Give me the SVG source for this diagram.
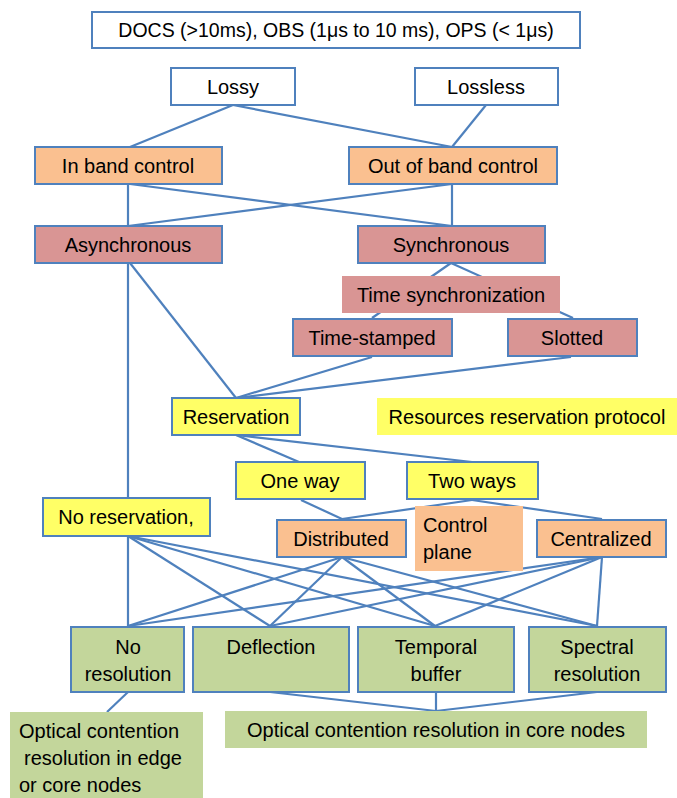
<svg xmlns="http://www.w3.org/2000/svg" width="677" height="798" viewBox="0 0 677 798">
<style>
text{font-family:"Liberation Sans",Arial,sans-serif;font-size:20px;fill:#000;text-anchor:middle}
.b{stroke:#4F81BD;stroke-width:2}
.w{fill:#fff}
.o{fill:#FAC090}
.r{fill:#D99594}
.y{fill:#FFFF66}
.g{fill:#C3D69B}
#connectors line{stroke:#4F81BD;stroke-width:2.2}
.l{text-anchor:start}
</style>
<rect width="677" height="798" fill="#fff"/>
<g id="connectors">
<line x1="233" y1="105" x2="130" y2="147"/>
<line x1="233" y1="105" x2="452" y2="147"/>
<line x1="486" y1="105" x2="452" y2="147"/>
<line x1="128" y1="184" x2="128" y2="226"/>
<line x1="130" y1="184" x2="452" y2="226"/>
<line x1="452" y1="184" x2="452" y2="226"/>
<line x1="452" y1="184" x2="128" y2="226"/>
<line x1="451" y1="263" x2="372" y2="318"/>
<line x1="451" y1="263" x2="573" y2="318"/>
<line x1="128" y1="263" x2="128" y2="626"/>
<line x1="130" y1="263" x2="236" y2="398"/>
<line x1="372" y1="357" x2="236" y2="398"/>
<line x1="571" y1="357" x2="236" y2="398"/>
<line x1="236" y1="435" x2="299" y2="462"/>
<line x1="236" y1="435" x2="472" y2="462"/>
<line x1="301" y1="500" x2="342" y2="519"/>
<line x1="472" y1="500" x2="342" y2="519"/>
<line x1="472" y1="500" x2="602" y2="519"/>
<line x1="128" y1="536" x2="270" y2="626"/>
<line x1="128" y1="536" x2="435" y2="626"/>
<line x1="128" y1="536" x2="597" y2="626"/>
<line x1="342" y1="557" x2="128" y2="626"/>
<line x1="342" y1="557" x2="270" y2="626"/>
<line x1="342" y1="557" x2="435" y2="626"/>
<line x1="342" y1="557" x2="597" y2="626"/>
<line x1="602" y1="557" x2="128" y2="626"/>
<line x1="602" y1="557" x2="270" y2="626"/>
<line x1="602" y1="557" x2="435" y2="626"/>
<line x1="602" y1="557" x2="597" y2="626"/>
<line x1="128" y1="692" x2="107" y2="712"/>
<line x1="270" y1="692" x2="436" y2="711"/>
<line x1="436" y1="692" x2="436" y2="711"/>
<line x1="597" y1="692" x2="436" y2="711"/>
</g>
<g id="n-top"><rect class="b w" x="92" y="12" width="488" height="36"/><text x="336" y="37" style="font-size:19.5px">DOCS (&gt;10ms), OBS (1μs to 10 ms), OPS (&lt; 1μs)</text></g>
<g id="n-lossy"><rect class="b w" x="171" y="68" width="124" height="37"/><text x="233" y="94">Lossy</text></g>
<g id="n-lossless"><rect class="b w" x="415" y="68" width="143" height="37"/><text x="486" y="94">Lossless</text></g>
<g id="n-inband"><rect class="b o" x="35" y="147" width="187" height="37"/><text x="128" y="173">In band control</text></g>
<g id="n-outband"><rect class="b o" x="349" y="147" width="208" height="37"/><text x="453" y="173">Out of band control</text></g>
<g id="n-async"><rect class="b r" x="35" y="226" width="187" height="37"/><text x="128" y="252">Asynchronous</text></g>
<g id="n-sync"><rect class="b r" x="358" y="226" width="187" height="37"/><text x="451" y="252">Synchronous</text></g>
<g id="n-timesync"><rect class="r" x="342" y="276" width="218" height="37"/><text x="451" y="302">Time synchronization</text></g>
<g id="n-timestamped"><rect class="b r" x="293" y="319" width="159" height="37"/><text x="372" y="345">Time-stamped</text></g>
<g id="n-slotted"><rect class="b r" x="508" y="319" width="129" height="37"/><text x="572" y="345">Slotted</text></g>
<g id="n-reservation"><rect class="b y" x="172" y="398" width="128" height="37"/><text x="236" y="424">Reservation</text></g>
<g id="n-rrp"><rect class="y" x="377" y="398" width="300" height="37"/><text x="527" y="424">Resources reservation protocol</text></g>
<g id="n-oneway"><rect class="b y" x="236" y="462" width="129" height="37"/><text x="300" y="488">One way</text></g>
<g id="n-twoways"><rect class="b y" x="407" y="462" width="131" height="37"/><text x="472" y="488">Two ways</text></g>
<g id="n-noreservation"><rect class="b y" x="43" y="498" width="167" height="38"/><text x="126" y="524">No reservation,</text></g>
<g id="n-distributed"><rect class="b o" x="277" y="520" width="129" height="37"/><text x="341" y="546">Distributed</text></g>
<g id="n-controlplane"><rect class="o" x="415" y="506" width="108" height="65"/><text class="l" x="423" y="532">Control</text><text class="l" x="423" y="559">plane</text></g>
<g id="n-centralized"><rect class="b o" x="537" y="520" width="129" height="37"/><text x="601" y="546">Centralized</text></g>
<g id="n-noresolution"><rect class="b g" x="71" y="627" width="113" height="65"/><text x="128" y="654">No</text><text x="128" y="681">resolution</text></g>
<g id="n-deflection"><rect class="b g" x="193" y="627" width="156" height="65"/><text x="271" y="654">Deflection</text></g>
<g id="n-temporal"><rect class="b g" x="358" y="627" width="156" height="65"/><text x="436" y="654">Temporal</text><text x="436" y="681">buffer</text></g>
<g id="n-spectral"><rect class="b g" x="529" y="627" width="137" height="65"/><text x="597" y="654">Spectral</text><text x="597" y="681">resolution</text></g>
<g id="n-edge"><rect class="g" x="10" y="712" width="193" height="86"/><text class="l" x="19" y="738">Optical contention</text><text class="l" x="24" y="765">resolution in edge</text><text class="l" x="19" y="792">or core nodes</text></g>
<g id="n-core"><rect class="g" x="225" y="711" width="422" height="37"/><text x="436" y="737">Optical contention resolution in core nodes</text></g>
</svg>
